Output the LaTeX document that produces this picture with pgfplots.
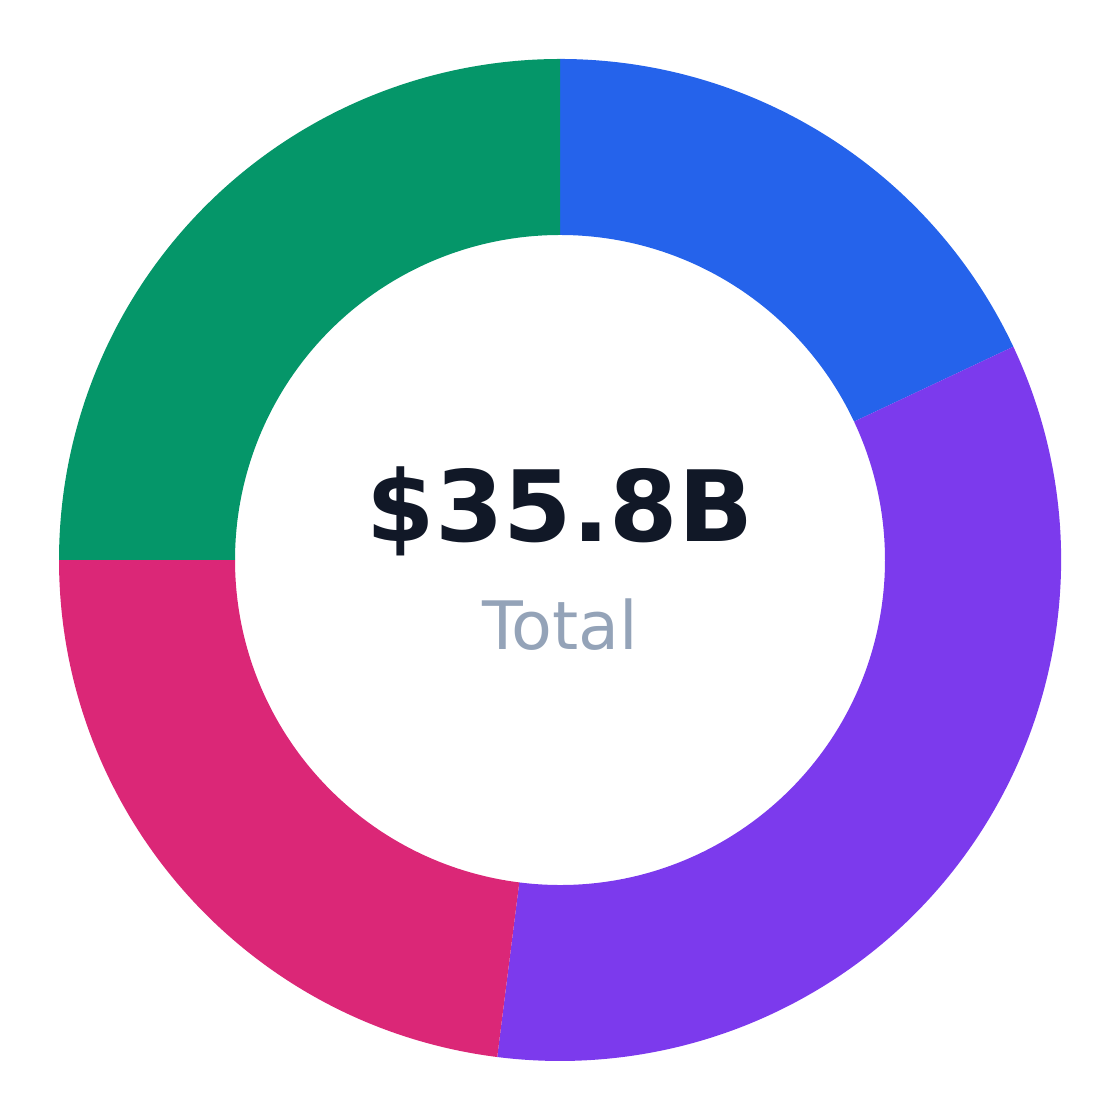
\documentclass[border=0pt]{standalone}
\usepackage{pgfplots}
\pgfplotsset{compat=1.18}
\usepackage{fontspec}
\setmainfont{DejaVu Sans}

\definecolor{cblue}{HTML}{2563EB}
\definecolor{cpurple}{HTML}{7C3AED}
\definecolor{cpink}{HTML}{DB2777}
\definecolor{cgreen}{HTML}{059669}
\definecolor{cdark}{HTML}{111827}
\definecolor{cgrey}{HTML}{94A3B8}

% radii in axis units (1 unit = 1cm)
\def\Ro{5.01}
\def\Ri{3.25}

\begin{document}
\begin{tikzpicture}
\begin{axis}[
  x=1cm, y=1cm,
  xmin=-5.6, xmax=5.6, ymin=-5.6, ymax=5.6,
  hide axis, clip=false,
]
\path (axis cs:-5.6,-5.6) rectangle (axis cs:5.6,5.6);
\pgfmathsetmacro\angA{90}
% shares in percent, clockwise from the top
\foreach \v/\col in {18/cblue, 34/cpurple, 23/cpink, 25/cgreen}{
  \pgfmathsetmacro\angB{\angA-\v*3.6}
  \edef\seg{\noexpand\fill[\col, overlay]
    (axis cs:{\Ro*cos(\angA)},{\Ro*sin(\angA)})
    arc[start angle=\angA, end angle=\angB, radius=\Ro cm]
    -- (axis cs:{\Ri*cos(\angB)},{\Ri*sin(\angB)})
    arc[start angle=\angB, end angle=\angA, radius=\Ri cm] -- cycle;}
  \seg
  \global\let\angA\angB
}
\node[anchor=base, text=cdark, font=\fontsize{28}{28}\selectfont\bfseries]
  at (axis cs:0,0.18) {\$35.8B};
\node[anchor=base, text=cgrey, font=\fontsize{19}{19}\selectfont]
  at (axis cs:0,-0.90) {Total};
\end{axis}
\end{tikzpicture}
\end{document}
